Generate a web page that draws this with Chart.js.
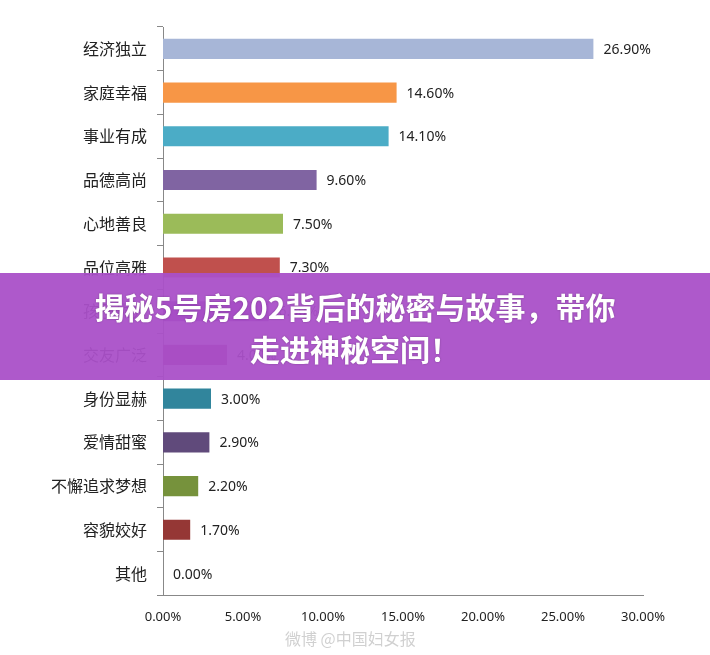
<!DOCTYPE html>
<html lang="zh">
<head>
<meta charset="UTF-8">
<title>chart</title>
<script src="https://cdn.jsdelivr.net/npm/chart.js"></script>
<style>
  body { margin: 0; background: #fff; font-family: "Noto Sans CJK SC", sans-serif; }
  #wrap { position: relative; width: 710px; height: 655px; }
  #banner { position: absolute; left: 0; top: 273px; width: 710px; height: 107px;
    background: rgba(170, 80, 200, 0.95); color: #fff; font-weight: bold; font-size: 30px;
    text-align: center; line-height: 42px; padding-top: 12px; box-sizing: border-box;
    text-shadow: 0 0 2px rgba(0,0,0,0.3); }
  #mark { position: absolute; left: 285px; top: 626px; color: rgba(150,150,150,0.45); font-size: 16px; }
</style>
</head>
<body>
<div id="wrap">
  <canvas id="myChart" width="710" height="655"></canvas>
  <div id="banner">揭秘5号房202背后的秘密与故事，带你<br>走进神秘空间！</div>
  <div id="mark">微博 @中国妇女报</div>
</div>
<script>
  const categories = ['经济独立', '家庭幸福', '事业有成', '品德高尚', '心地善良', '品位高雅', '孩子优秀',
    '交友广泛', '身份显赫', '爱情甜蜜', '不懈追求梦想', '容貌姣好', '其他'];
  const values = [26.9, 14.6, 14.1, 9.6, 7.5, 7.3, 6.6, 4.0, 3.0, 2.9, 2.2, 1.7, 0.0];
  const colors = ['#a7b6d7', '#f79646', '#4bacc6', '#8064a2', '#9bbb59', '#c0504d', '#7030a0',
    '#a0307d', '#31859c', '#604a7b', '#76923c', '#953735', '#888888'];

  const valueLabels = {
    id: 'valueLabels',
    afterDatasetsDraw(chart) {
      const ctx = chart.ctx;
      const meta = chart.getDatasetMeta(0);
      ctx.save();
      ctx.font = '14px "Noto Sans", sans-serif';
      ctx.fillStyle = '#222';
      ctx.textBaseline = 'middle';
      meta.data.forEach((bar, i) => {
        ctx.fillText(values[i].toFixed(2) + '%', bar.x + 10, bar.y + 1);
      });
      ctx.restore();
    }
  };

  const ctx = document.getElementById('myChart').getContext('2d');
  new Chart(ctx, {
    type: 'bar',
    data: {
      labels: categories,
      datasets: [{ data: values, backgroundColor: colors, barPercentage: 0.46, categoryPercentage: 1 }]
    },
    options: {
      indexAxis: 'y',
      responsive: false,
      animation: false,
      layout: { padding: { top: 27, right: 67, bottom: 22, left: 10 } },
      plugins: { legend: { display: false }, tooltip: { enabled: false } },
      scales: {
        x: {
          min: 0, max: 30,
          ticks: { stepSize: 5, color: '#222', padding: 8,
            font: { size: 13, family: '"Noto Sans", sans-serif' },
            callback: v => v.toFixed(2) + '%' },
          grid: { display: false, drawTicks: true, tickLength: 6 },
          border: { color: '#888' }
        },
        y: {
          afterFit: s => { s.width = 153; },
          ticks: { color: '#222', padding: 10, font: { size: 16, family: '"Noto Sans CJK SC"' } },
          grid: { display: true, drawOnChartArea: false, offset: true, tickLength: 6, color: '#888' },
          border: { color: '#888' }
        }
      }
    },
    plugins: [valueLabels]
  });
</script>
</body>
</html>
